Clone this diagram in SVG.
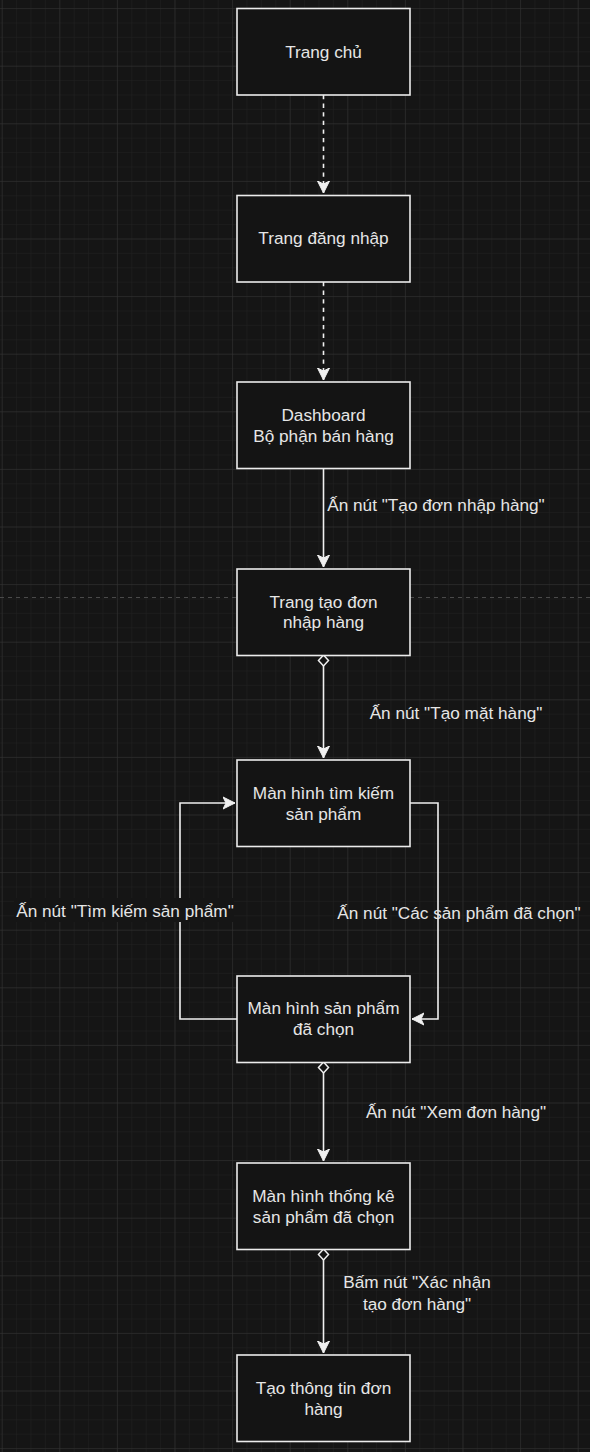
<svg xmlns="http://www.w3.org/2000/svg" width="590" height="1452" viewBox="0 0 590 1452">
<defs>
<style>
.node rect{fill:#141414;stroke:#ececec;stroke-width:1.6}
.t{font-family:"Liberation Sans",Arial,sans-serif;font-size:17.2px;fill:#e6e6e6;text-anchor:middle}
.lbl{font-family:"Liberation Sans",Arial,sans-serif;font-size:17.2px;fill:#e6e6e6;text-anchor:middle}
.edge{fill:none;stroke:#f0f0f0;stroke-width:1.6}
.dash{stroke-dasharray:4.3 4.3}
</style>
<pattern id="minor" x="1.7" y="8.1" width="14.4" height="14.4" patternUnits="userSpaceOnUse">
<path d="M14.4 0H0V14.4" fill="none" stroke="#222222" stroke-width="1"/>
</pattern>
<pattern id="major" x="1.7" y="8.1" width="57.6" height="57.6" patternUnits="userSpaceOnUse">
<path d="M57.6 0H0V57.6" fill="none" stroke="#343434" stroke-width="1"/>
</pattern>
<marker id="arr" viewBox="0 0 14 14" refX="12" refY="7" markerWidth="14" markerHeight="14" markerUnits="userSpaceOnUse" orient="auto">
<path d="M12 7L0 1L3 7L0 13Z" fill="#f0f0f0" stroke="#f0f0f0" stroke-width="1"/>
</marker>
<marker id="dia" viewBox="0 0 14 14" refX="1" refY="7" markerWidth="14" markerHeight="14" markerUnits="userSpaceOnUse" orient="auto">
<path d="M1 7L6.5 2L12 7L6.5 12Z" fill="#141414" stroke="#f0f0f0" stroke-width="1.5"/>
</marker>
</defs>
<rect width="590" height="1452" fill="#151515"/>
<rect width="590" height="1452" fill="url(#minor)"/>
<rect width="590" height="1452" fill="url(#major)"/>
<path d="M0 597.5H237M410 597.5H590" stroke="#4a4a4a" stroke-width="1" stroke-dasharray="4 4"/>

<g id="connectors">
<path class="edge dash" d="M323.5 95V193" marker-end="url(#arr)"/>
<path class="edge dash" d="M323.5 282V380" marker-end="url(#arr)"/>
<path class="edge" d="M323.5 468V567" marker-end="url(#arr)"/>
<path class="edge" d="M323.5 655V758" marker-start="url(#dia)" marker-end="url(#arr)"/>
<path class="edge" d="M237 1019H180V803H235" marker-end="url(#arr)"/>
<path class="edge" d="M410 803H438V1019H412" marker-end="url(#arr)"/>
<path class="edge" d="M323.5 1062V1161" marker-start="url(#dia)" marker-end="url(#arr)"/>
<path class="edge" d="M323.5 1249V1353" marker-start="url(#dia)" marker-end="url(#arr)"/>
<text class="lbl" x="436" y="511">Ấn nút "Tạo đơn nhập hàng"</text>
<text class="lbl" x="456" y="719">Ấn nút "Tạo mặt hàng"</text>
<rect x="14" y="898" width="220" height="24" fill="#151515"/>
<text class="lbl" x="125" y="917">Ấn nút "Tìm kiếm sản phẩm"</text>
<text class="lbl" x="459" y="919">Ấn nút "Các sản phẩm đã chọn"</text>
<text class="lbl" x="456" y="1118">Ấn nút "Xem đơn hàng"</text>
<text class="lbl" x="417" y="1288">Bấm nút "Xác nhận</text>
<text class="lbl" x="417" y="1310">tạo đơn hàng"</text>
</g>

<g id="trang-chu" class="node"><rect x="237" y="8.5" width="173" height="86.5"/><text class="t" x="323.5" y="58">Trang chủ</text></g>
<g id="trang-dang-nhap" class="node"><rect x="237" y="195.5" width="173" height="86.5"/><text class="t" x="323.5" y="244">Trang đăng nhập</text></g>
<g id="dashboard" class="node"><rect x="237" y="382" width="173" height="86.5"/><text class="t" x="323.5" y="421">Dashboard</text><text class="t" x="323.5" y="442">Bộ phận bán hàng</text></g>
<g id="trang-tao-don" class="node"><rect x="237" y="569" width="173" height="86.5"/><text class="t" x="323.5" y="608">Trang tạo đơn</text><text class="t" x="323.5" y="628">nhập hàng</text></g>
<g id="tim-kiem" class="node"><rect x="237" y="760" width="173" height="86.5"/><text class="t" x="323.5" y="799">Màn hình tìm kiếm</text><text class="t" x="323.5" y="820">sản phẩm</text></g>
<g id="san-pham-da-chon" class="node"><rect x="237" y="976" width="173" height="86.5"/><text class="t" x="323.5" y="1014">Màn hình sản phẩm</text><text class="t" x="323.5" y="1035">đã chọn</text></g>
<g id="thong-ke" class="node"><rect x="237" y="1163" width="173" height="86.5"/><text class="t" x="323.5" y="1202">Màn hình thống kê</text><text class="t" x="323.5" y="1223">sản phẩm đã chọn</text></g>
<g id="tao-thong-tin" class="node"><rect x="237" y="1355" width="173" height="86.5"/><text class="t" x="323.5" y="1394">Tạo thông tin đơn</text><text class="t" x="323.5" y="1415">hàng</text></g>
</svg>
